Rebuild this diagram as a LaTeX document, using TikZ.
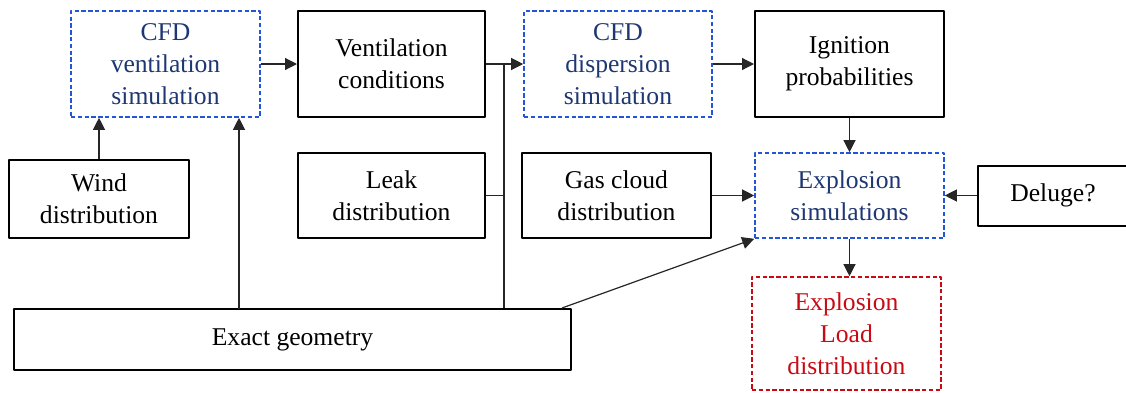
\documentclass[tikz,border=0pt]{standalone}
\usepackage{fontspec}
\setmainfont{Liberation Serif}
\usetikzlibrary{arrows.meta}
\definecolor{simblue}{RGB}{35,85,215}
\definecolor{simtext}{RGB}{30,55,115}
\definecolor{loadred}{RGB}{200,10,20}
\begin{document}
\begin{tikzpicture}[x=0.5pt,y=-0.5pt,>={Triangle[length=6pt,width=6pt]},
		font=\fontsize{12.8}{16}\selectfont, line join=round,
		box/.style={draw, line width=1pt, align=center, inner sep=0pt},
		simbox/.style={draw=simblue, text=simtext, line width=0.8pt, dash pattern=on 2.2pt off 1.2pt, align=center, inner sep=0pt},
		loadbox/.style={simbox, draw=loadred, text=loadred},
		link/.style={line width=0.6pt, black!85}]
	\useasboundingbox (0,0) rectangle (1126,392);
	% top row
	\node[simbox, minimum width=94.5pt, minimum height=53pt] (cfdvent) at (165.5,64) {CFD\\ventilation\\simulation};
	\node[box, minimum width=93.5pt, minimum height=53pt] (ventcond) at (391.5,64) {Ventilation\\conditions};
	\node[simbox, minimum width=94pt, minimum height=53pt] (cfddisp) at (618,64) {CFD\\dispersion\\simulation};
	\node[box, minimum width=94.5pt, minimum height=53pt] (ignition) at (849.5,64) {Ignition\\probabilities};
	% middle row
	\node[box, minimum width=90pt, minimum height=39pt] (wind) at (99,199) {Wind\\distribution};
	\node[box, minimum width=93.5pt, minimum height=42.5pt] (leak) at (391.5,195.5) {Leak\\distribution};
	\node[box, minimum width=94.5pt, minimum height=42.5pt] (gascloud) at (616.5,195.5) {Gas cloud\\distribution};
	\node[simbox, minimum width=94.5pt, minimum height=42.5pt] (explsim) at (849.5,195.5) {Explosion\\simulations};
	\node[box, minimum width=75pt, minimum height=30pt] (deluge) at (1053,195.5) {Deluge?};
	% bottom row
	\node[box, minimum width=278.5pt, minimum height=30.5pt] (exactgeo) at (292.5,339.5) {Exact geometry};
	\node[loadbox, minimum width=94.5pt, minimum height=56.5pt] (explload) at (846.5,333.5) {Explosion\\Load\\distribution};
	% connectors
	\coordinate (geoup) at (239,309);
	\coordinate (junc) at (504,64);
	\draw[link,->] (cfdvent) -- (ventcond);
	\draw[link,->] (ventcond) -- (cfddisp);
	\draw[link,->] (cfddisp) -- (ignition);
	\draw[link,->] (ignition) -- (explsim);
	\draw[link,->] (gascloud) -- (explsim);
	\draw[link,->] (deluge) -- (explsim);
	\draw[link,->] (explsim.south) -- (explsim.south |- explload.north);
	\draw[link,->] (wind.north) -- (wind.north |- cfdvent.south);
	\draw[link,->] (geoup) -- (geoup |- cfdvent.south);
	\draw[link] (junc) -- (junc |- exactgeo.north);
	\draw[link] (leak.east) -- (leak.east -| junc);
	\draw[link,->] ([xshift=-5pt]exactgeo.north east) -- (explsim.south west);
\end{tikzpicture}
\end{document}
